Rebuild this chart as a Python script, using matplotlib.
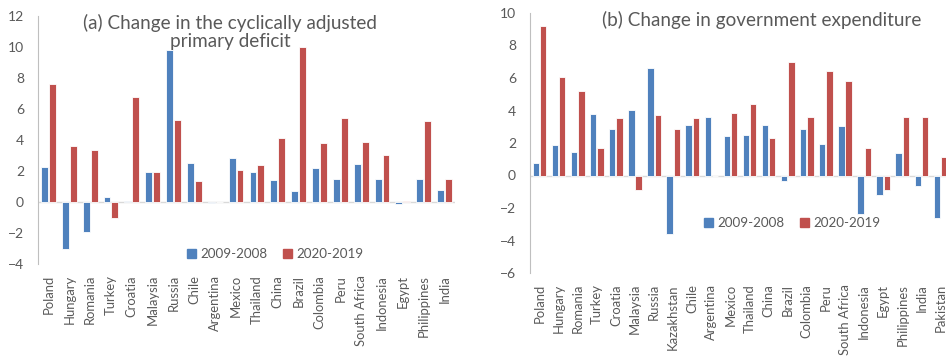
import matplotlib.pyplot as plt
from matplotlib.patches import Patch
import numpy as np

plt.rcParams['font.family'] = ['Lato', 'DejaVu Sans']

# panel (a): change in the cyclically adjusted primary deficit
countries_a = ["Poland", "Hungary", "Romania", "Turkey", "Croatia", "Malaysia", "Russia",
               "Chile", "Argentina", "Mexico", "Thailand", "China", "Brazil", "Colombia",
               "Peru", "South Africa", "Indonesia", "Egypt", "Philippines", "India"]
a_0908 = [2.26, -3.0, -1.95, 0.35, 0.05, 1.96, 9.8, 2.54, -0.08, 2.82, 1.96, 1.44, 0.71,
          2.19, 1.51, 2.43, 1.51, -0.15, 1.51, 0.75]
a_2019 = [7.6, 3.6, 3.34, -1.0, 6.8, 1.94, 5.27, 1.34, 0.0, 2.09, 2.37, 4.15, 10.0,
          3.81, 5.42, 3.85, 3.06, 0.05, 5.23, 1.51]

# panel (b): change in government expenditure
countries_b = ["Poland", "Hungary", "Romania", "Turkey", "Croatia", "Malaysia", "Russia",
               "Kazakhstan", "Chile", "Argentina", "Mexico", "Thailand", "China", "Brazil",
               "Colombia", "Peru", "South Africa", "Indonesia", "Egypt", "Philippines",
               "India", "Pakistan"]
b_0908 = [0.76, 1.89, 1.46, 3.8, 2.85, 4.05, 6.61, -3.61, 3.08, 3.57, 2.42, 2.49, 3.12,
          -0.32, 2.88, 1.91, 3.04, -2.38, -1.19, 1.4, -0.65, -2.59]
b_2019 = [9.2, 6.08, 5.17, 1.7, 3.51, -0.88, 3.7, 2.88, 3.51, 0.0, 3.82, 4.42, 2.3,
          6.98, 3.59, 6.45, 5.81, 1.72, -0.9, 3.59, 3.63, 1.13]

blue = "#4F81BD"
red = "#C0504D"
grey = "#595959"
W, H = 946, 356

fig = plt.figure(figsize=(W / 100, H / 100), dpi=100)


def panel(rect, cats, s1, s2, ylim, step):
    ax = fig.add_axes(rect)
    x = np.arange(len(cats))
    ax.bar(x - 0.19, s1, 0.33, color=blue, edgecolor="white", linewidth=0.6)
    ax.bar(x + 0.19, s2, 0.33, color=red, edgecolor="white", linewidth=0.6)
    ax.set_xlim(-0.5, len(cats) - 0.5)
    ax.set_ylim(*ylim)
    ax.set_yticks(np.arange(ylim[0], ylim[1] + 1, step))
    ax.set_xticks(x)
    ax.set_xticklabels(cats, rotation=90, va="top", ha="center")
    ax.tick_params(axis="both", length=0, colors=grey, labelsize=10)
    ax.tick_params(axis="x", pad=8, labelsize=9.4)
    ax.tick_params(axis="y", pad=10)
    for s in ["top", "right", "bottom"]:
        ax.spines[s].set_visible(False)
    ax.spines["left"].set_color("#BFBFBF")
    ax.axhline(0, color="#D9D9D9", lw=1, zorder=0.5)
    return ax


ax1 = panel([38 / W, 1 - 264 / H, (455 - 38) / W, 248 / H],
            countries_a, a_0908, a_2019, (-4, 12), 2)
ax2 = panel([530 / W, 1 - 273 / H, 420 / W, 260 / H],
            countries_b, b_0908, b_2019, (-6, 10), 2)

fig.text(230 / W, 1 - 32 / H, "(a) Change in the cyclically adjusted\nprimary deficit",
         ha="center", va="center", fontsize=13.6, color=grey, linespacing=1.1)
fig.text(762 / W, 1 - 20 / H, "(b) Change in government expenditure",
         ha="center", va="center", fontsize=13.6, color=grey)

handles = [Patch(color=blue), Patch(color=red)]
for cx, cy in [(275, 254), (792, 223)]:
    fig.legend(handles, ["2009-2008", "2020-2019"], loc="center",
               bbox_to_anchor=(cx / W, 1 - cy / H), ncol=2, frameon=False,
               fontsize=9.6, labelcolor=grey, handlelength=0.7, handleheight=0.7,
               handletextpad=0.3, columnspacing=1.2)

fig.savefig("out.png", dpi=100)
